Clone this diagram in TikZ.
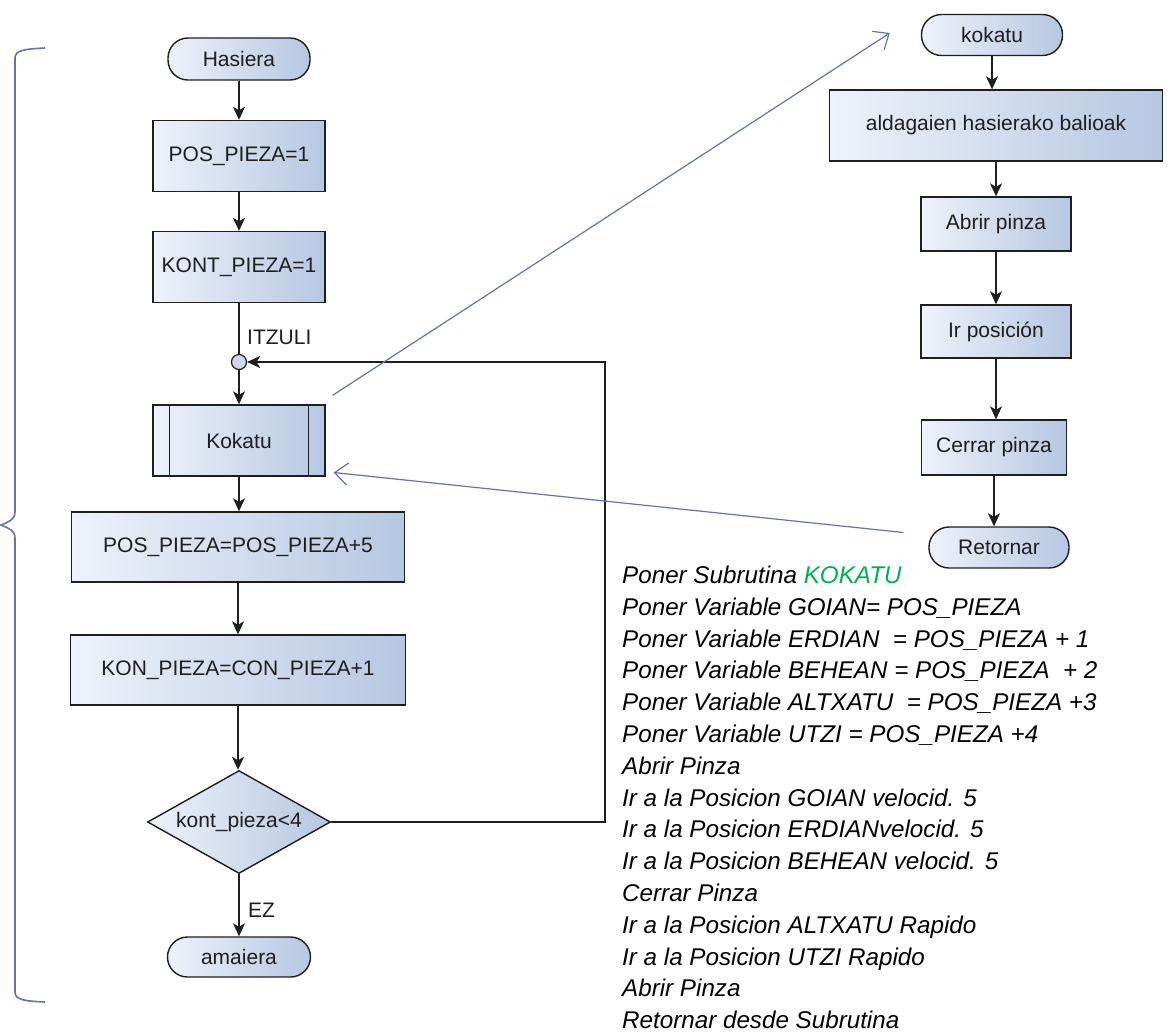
\documentclass[tikz,border=0pt]{standalone}
\usepackage{fontspec}
\setmainfont{Liberation Sans}
\usetikzlibrary{arrows.meta,shapes.geometric}
\definecolor{bl}{RGB}{100,115,175}
\definecolor{fl}{RGB}{238,242,250}
\definecolor{fr}{RGB}{182,199,226}
\definecolor{ink}{RGB}{30,30,30}
\definecolor{grn}{RGB}{0,176,80}
\begin{document}
\begin{tikzpicture}[x=1pt,y=-1pt,
  every node/.style={font=\fontsize{21}{25}\selectfont, text=ink},
  box/.style={draw=ink, line width=1.4pt, left color=fl, right color=fr, inner sep=0pt},
  term/.style={box, rounded corners=20pt, minimum height=42pt},
  proc/.style={box, minimum height=71pt},
  plainline/.style={draw=ink, line width=1.4pt},
  flow/.style={draw=ink, line width=1.4pt, -{Stealth[length=13pt,width=12pt,inset=3.5pt]}},
  blarrow/.style={draw=bl, line width=1.2pt, -{Straight Barb[length=13pt,width=22pt]}},
  lbl/.style={anchor=west, inner sep=0pt},
  txt/.style={anchor=base west, inner sep=0pt, text=black, font=\fontsize{24.2}{30}\selectfont\itshape}
]
\useasboundingbox[fill=white] (0,0) rectangle (1174,1034);

% brace
\draw[bl, line width=1.6pt] (45,48) .. controls (25,49) and (15,50) .. (15,58) -- (15,512)
  .. controls (15,520) and (8,522) .. (1,525) .. controls (8,528) and (15,530) .. (15,538)
  -- (15,992) .. controls (15,1000) and (25,1001) .. (45,1002);

% left flowchart
\node[term, minimum width=142pt] (hasiera) at (239,59) {Hasiera};
\node[proc, minimum width=172pt] (p1) at (239,156) {POS\_PIEZA=1};
\node[proc, minimum width=172pt] (p2) at (239,267) {KONT\_PIEZA=1};
\node[circle, draw=ink, line width=1.2pt, fill=fr!70!white, minimum size=15pt, inner sep=0pt] (c) at (239,362) {};
\node[lbl] (itz) at (247,337) {ITZULI};
\node[proc, minimum width=172pt] (kok) at (239,440.5) {Kokatu};
\draw[plainline] ([xshift=17pt]kok.north west) -- ([xshift=17pt]kok.south west);
\draw[plainline] ([xshift=-17pt]kok.north east) -- ([xshift=-17pt]kok.south east);
\node[proc, minimum width=333pt, minimum height=70pt] (p3) at (238,547) {POS\_PIEZA=POS\_PIEZA+5};
\node[proc, minimum width=335pt, minimum height=70pt] (p4) at (238,670) {KON\_PIEZA=CON\_PIEZA+1};
\node[diamond, box, aspect=1.78, minimum width=183pt, minimum height=103pt] (d) at (239,822) {kont\_pieza<4};
\node[term, minimum width=143pt, minimum height=40pt] (am) at (239,957) {amaiera};
\node[lbl] (ez) at (248,910) {EZ};

\draw[flow] (hasiera) -- (p1);
\draw[flow] (p1) -- (p2);
\draw[plainline] (p2) -- (c);
\draw[flow] (c) -- (kok);
\draw[flow] (kok.south) -- (kok.south |- p3.north);
\draw[flow] (p3.south) -- (p3.south |- p4.north);
\draw[flow] (p4.south) -- (p4.south |- d.north);
\draw[flow] (d) -- (am);
\coordinate (lp) at (605,822);
\draw[flow] (d.east) -- (lp) |- (c.east);

% right flowchart
\node[term, minimum width=141pt, minimum height=41pt] (sk) at (992,35) {kokatu};
\node[proc, minimum width=333pt] (al) at (996,125.5) {aldagaien hasierako balioak};
\node[proc, minimum width=150pt, minimum height=54pt] (ab) at (996,224) {Abrir pinza};
\node[proc, minimum width=150pt, minimum height=53pt] (ir) at (996,331.5) {Ir posición};
\node[proc, minimum width=145pt, minimum height=55pt] (ce) at (994,447.5) {Cerrar pinza};
\node[term, minimum width=140pt, minimum height=41pt] (re) at (999,547.5) {Retornar};

\draw[flow] (sk.south) -- (sk.south |- al.north);
\draw[flow] (al.south) -- (al.south |- ab.north);
\draw[flow] (ab) -- (ir);
\draw[flow] (ir.south) -- (ir.south |- ce.north);
\draw[flow] (ce.south) -- (ce.south |- re.north);

% blue link arrows
\draw[blarrow] ([shift={(7,-9)}]kok.north east) -- ([shift={(-31,-2)}]sk.west);
\draw[blarrow] ([shift={(-25,-15)}]re.west) -- ([shift={(8,32)}]kok.east);

% text block
\node[txt] (t1) at (622,583.5) {Poner Subrutina \textcolor{grn}{KOKATU}};
\node[txt] (t2) at (622,615.3) {Poner Variable GOIAN= POS\_PIEZA};
\node[txt] (t3) at (622,647.1) {Poner Variable ERDIAN\ \ = POS\_PIEZA + 1};
\node[txt] (t4) at (622,678.9) {Poner Variable BEHEAN = POS\_PIEZA\ \ + 2};
\node[txt] (t5) at (622,710.7) {Poner Variable ALTXATU\ \ = POS\_PIEZA +3};
\node[txt] (t6) at (622,742.5) {Poner Variable UTZI = POS\_PIEZA +4};
\node[txt] (t7) at (622,774.3) {Abrir Pinza};
\node[txt] (t8) at (622,806.1) {Ir a la Posicion GOIAN velocid. 5};
\node[txt] (t9) at (622,837.9) {Ir a la Posicion ERDIANvelocid. 5};
\node[txt] (t10) at (622,869.7) {Ir a la Posicion BEHEAN velocid. 5};
\node[txt] (t11) at (622,901.5) {Cerrar Pinza};
\node[txt] (t12) at (622,933.3) {Ir a la Posicion ALTXATU Rapido};
\node[txt] (t13) at (622,965.1) {Ir a la Posicion UTZI Rapido};
\node[txt] (t14) at (622,996.9) {Abrir Pinza};
\node[txt] (t15) at (622,1028.7) {Retornar desde Subrutina};
\end{tikzpicture}
\end{document}
